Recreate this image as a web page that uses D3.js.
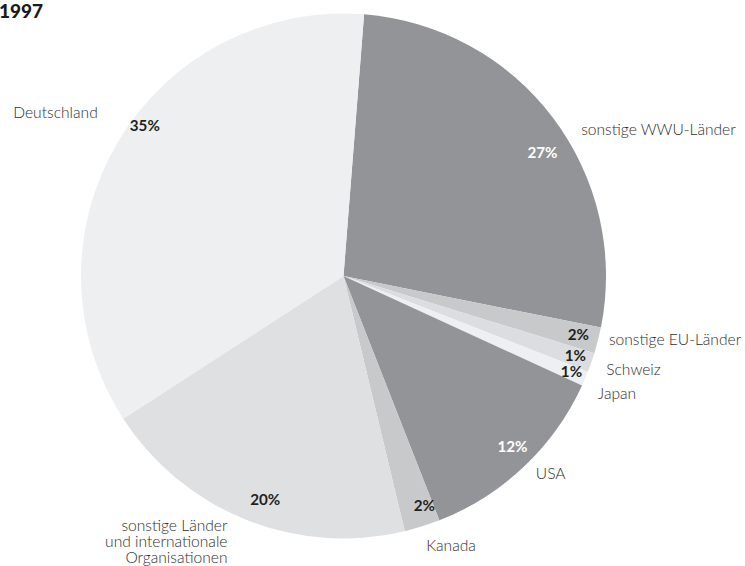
<!DOCTYPE html>
<html>
<head>
<meta charset="utf-8">
<script src="https://cdn.jsdelivr.net/npm/d3@7"></script>
<style>
  html, body { margin: 0; padding: 0; background: #fff; }
  svg { display: block; }
  .name { font-family: Lato, "Open Sans", sans-serif; font-weight: 300; font-size: 15.6px; fill: #2e2e2e; }
  .pct { font-family: Lato, "Open Sans", sans-serif; font-weight: 700; font-size: 15.2px; }
  .title { font-family: Lato, "Open Sans", sans-serif; font-weight: 900; font-size: 19px; fill: #1a1a1a; }
</style>
</head>
<body>
<svg id="chart" width="745" height="566"></svg>
<script>
// Shares of holdings by country group, 1997 (percent), clockwise from the top
const categories = [
  "sonstige WWU-Länder",
  "sonstige EU-Länder",
  "Schweiz",
  "Japan",
  "USA",
  "Kanada",
  "sonstige Länder\nund internationale\nOrganisationen",
  "Deutschland"
];
const shares = [26.9, 1.6, 1.2, 0.9, 12.2, 2.2, 19.6, 35.4];
const sliceColors = ["#939498", "#c8c9cb", "#dcdde0", "#eeeff1", "#939498", "#c8c9cb", "#dfe0e2", "#eeeff1"];
const pctColors = ["#ffffff", "#231f20", "#231f20", "#231f20", "#ffffff", "#231f20", "#231f20", "#231f20"];

// label layout: angle shift (deg) from the slice middle, radius and anchor
const pctShift = [5.3, -0.3, -0.4, -0.4, -1.4, -2, -2.5, 6.3];
const pctRadius = [234, 242, 245, 247, 240, 243, 237, 249];
const nameShift = [5.5, -0.7, 0.4, 1.7, -0.8, -4.3, 1.8, 2.8];
const nameRadius = [279, 273, 279, 280, 276, 290, 290, 295];
const nameAnchor = ["start", "start", "start", "start", "start", "middle", "end", "end"];

const cx = 343.5, cy = 276, R = 262.5;
const startDeg = 4.5;

const svg = d3.select("#chart");

svg.append("text").attr("class", "title")
  .attr("x", -1).attr("y", 18).text("1997");

const data = categories.map((c, i) => ({ name: c, value: shares[i], i }));

const pie = d3.pie()
  .value(d => d.value)
  .sort(null)
  .startAngle(startDeg * Math.PI / 180)
  .endAngle((startDeg + 360) * Math.PI / 180);

const arcs = pie(data);
const arc = d3.arc().innerRadius(0).outerRadius(R);

const g = svg.append("g").attr("transform", `translate(${cx},${cy})`);

g.selectAll("path.slice")
  .data(arcs)
  .join("path")
  .attr("class", "slice")
  .attr("d", arc)
  .attr("fill", d => sliceColors[d.data.i]);

function polar(angleRad, r) {
  return [r * Math.sin(angleRad), -r * Math.cos(angleRad)];
}
const mid = d => (d.startAngle + d.endAngle) / 2;
const deg = Math.PI / 180;

// percentage labels inside the slices
g.selectAll("text.pct")
  .data(arcs)
  .join("text")
  .attr("class", "pct")
  .attr("text-anchor", "middle")
  .attr("dy", "0.36em")
  .attr("fill", d => pctColors[d.data.i])
  .attr("x", d => polar(mid(d) + pctShift[d.data.i] * deg, pctRadius[d.data.i])[0])
  .attr("y", d => polar(mid(d) + pctShift[d.data.i] * deg, pctRadius[d.data.i])[1])
  .text(d => Math.round(d.data.value) + "%");

// category names outside the pie
const names = g.selectAll("text.name")
  .data(arcs)
  .join("text")
  .attr("class", "name")
  .attr("text-anchor", d => nameAnchor[d.data.i])
  .attr("transform", d => {
    const p = polar(mid(d) + nameShift[d.data.i] * deg, nameRadius[d.data.i]);
    return `translate(${p[0]},${p[1]})`;
  });

names.each(function(d) {
  const lines = d.data.name.split("\n");
  const lh = 15.8;
  const off = -(lines.length - 1) * lh / 2;
  d3.select(this).selectAll("tspan")
    .data(lines)
    .join("tspan")
    .attr("x", 0)
    .attr("y", (l, k) => off + k * lh)
    .attr("dy", "0.35em")
    .text(l => l);
});
</script>
</body>
</html>
